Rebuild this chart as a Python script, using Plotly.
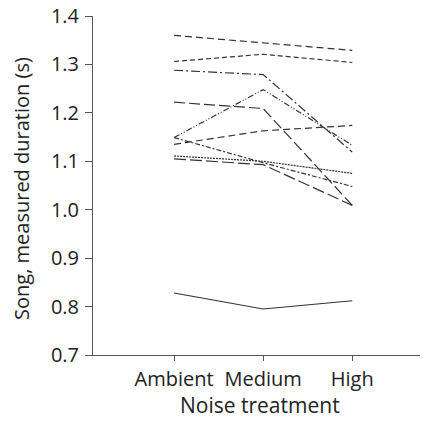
import plotly.graph_objects as go

categories = ["Ambient", "Medium", "High"]

bird_a = [1.360, 1.345, 1.329]
bird_b = [1.306, 1.321, 1.304]
bird_c = [1.288, 1.279, 1.119]
bird_d = [1.149, 1.248, 1.133]
bird_e = [1.222, 1.209, 1.009]
bird_f = [1.135, 1.163, 1.174]
bird_g = [1.149, 1.097, 1.048]
bird_h = [1.111, 1.100, 1.075]
bird_i = [1.105, 1.093, 1.009]
bird_j = [0.828, 0.795, 0.812]

series = [bird_a, bird_b, bird_c, bird_d, bird_e, bird_f, bird_g, bird_h, bird_i, bird_j]
dashes = ["7px,4px", "5px,3px", "9px,3px,2px,3px", "6px,2px,1px,2px,1px,2px",
          "11px,4px", "7px,4px", "5px,2px,2px,2px", "2px,1px", "12px,4px", "solid"]

fig = go.Figure()
for vals, d in zip(series, dashes):
    fig.add_trace(go.Scatter(x=[0, 1, 2], y=vals, mode="lines",
                             line=dict(color="#333333", width=1.2, dash=d),
                             showlegend=False, hoverinfo="skip"))

font = "Open Sans, Lato, sans-serif"
fig.update_layout(
    width=423, height=421,
    margin=dict(l=93, r=3, t=16, b=66),
    paper_bgcolor="white", plot_bgcolor="white",
    font=dict(family=font, color="#222222"),
    xaxis=dict(range=[-0.91, 2.76], tickmode="array", tickvals=[0, 1, 2],
               ticktext=categories, showgrid=False, zeroline=False,
               showline=True, linecolor="#555555", linewidth=1,
               ticks="outside", ticklen=5, tickcolor="#555555",
               tickfont=dict(size=20), ticklabelstandoff=1),
    yaxis=dict(range=[0.7, 1.4], tickmode="array",
               tickvals=[0.7, 0.8, 0.9, 1.0, 1.1, 1.2, 1.3, 1.4],
               ticktext=["0.7", "0.8", "0.9", "1.0", "1.1", "1.2", "1.3", "1.4"],
               showgrid=False, zeroline=False,
               showline=True, linecolor="#555555", linewidth=1,
               ticks="outside", ticklen=7, tickcolor="#555555",
               tickfont=dict(size=20), ticklabelstandoff=2),
    annotations=[
        dict(text="Noise treatment", xref="paper", yref="paper",
             x=0.511, y=-0.194, xanchor="center", yanchor="bottom",
             showarrow=False, font=dict(size=21, family=font, color="#222222")),
        dict(text="Song, measured duration (s)", xref="paper", yref="paper",
             x=-0.217, y=0.49, xanchor="center", yanchor="middle", textangle=-90,
             showarrow=False, font=dict(size=20, family=font, color="#222222")),
    ],
)

fig.write_html("out.html", config={"displayModeBar": False, "staticPlot": True},
               post_script="document.body.style.margin='0';document.body.style.overflow='hidden';")
